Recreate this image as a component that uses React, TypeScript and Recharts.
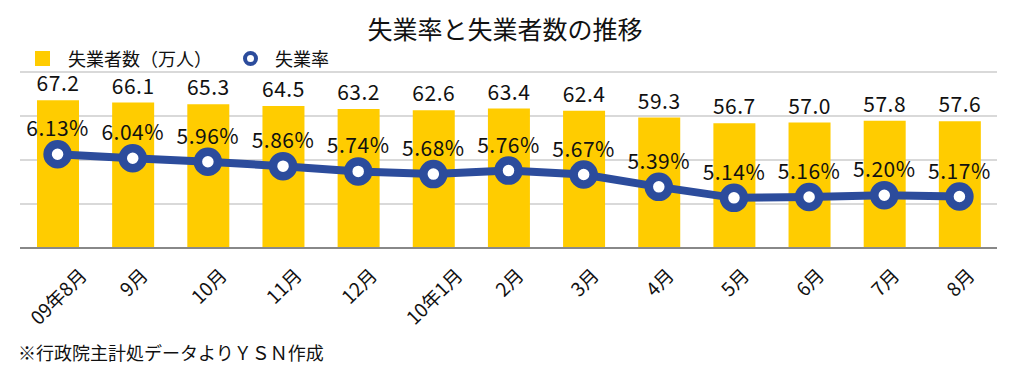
import React from "react";
import {
  ComposedChart, Bar, Line, XAxis, YAxis, CartesianGrid, LabelList,
} from "recharts";

const months = ["09年8月", "9月", "10月", "11月", "12月", "10年1月", "2月", "3月", "4月", "5月", "6月", "7月", "8月"];
const unemployed = [67.2, 66.1, 65.3, 64.5, 63.2, 62.6, 63.4, 62.4, 59.3, 56.7, 57.0, 57.8, 57.6];
const rate = [6.13, 6.04, 5.96, 5.86, 5.74, 5.68, 5.76, 5.67, 5.39, 5.14, 5.16, 5.20, 5.17];

const data = months.map((m, i) => ({ month: m, unemployed: unemployed[i], rate: rate[i] }));

const FONT = '"Noto Sans CJK JP", "Noto Sans", sans-serif';
const YELLOW = "#FFCC00";
const BLUE = "#2C4C9C";
const TICK_SIZE = 19;

// rough label width so the rotated box can be centred under the bar (like Excel does)
function labelWidth(s: string) {
  let w = 0;
  for (const ch of s) w += /[0-9]/.test(ch) ? 0.56 * TICK_SIZE : TICK_SIZE;
  return w;
}

function MonthTick({ x, y, payload }: any) {
  const len = labelWidth(String(payload.value));
  const cy = y + 8 + 0.354 * (len + TICK_SIZE);
  return (
    <text
      x={x}
      y={cy}
      textAnchor="middle"
      dominantBaseline="central"
      fontSize={TICK_SIZE}
      fill="#111"
      fontFamily={FONT}
      transform={`rotate(-45 ${x} ${cy})`}
    >
      {payload.value}
    </text>
  );
}

export default function App() {
  return (
    <div style={{ position: "absolute", left: 0, top: 0, width: 1018, height: 371, background: "#fff", fontFamily: FONT, color: "#111" }}>
      <div style={{ position: "absolute", left: 0, width: 1010, top: 12, textAlign: "center", fontSize: 25, lineHeight: "32px" }}>
        失業率と失業者数の推移
      </div>

      <div style={{ position: "absolute", left: 35, top: 46, display: "flex", alignItems: "center", fontSize: 18, lineHeight: "24px" }}>
        <span style={{ width: 15, height: 15, background: YELLOW, display: "inline-block", marginRight: 18 }} />
        <span>失業者数（万人）</span>
        <span style={{ width: 7, height: 7, border: `4px solid ${BLUE}`, borderRadius: "50%", display: "inline-block", marginLeft: 31, marginRight: 17 }} />
        <span>失業率</span>
      </div>

      <ComposedChart
        width={1018}
        height={371}
        data={data}
        margin={{ top: 72, right: 21, left: 20, bottom: 23 }}
        style={{ fontFamily: FONT }}
      >
        <CartesianGrid yAxisId="left" vertical={false} stroke="#d9d9d9" strokeWidth={2} />
        <XAxis
          dataKey="month"
          interval={0}
          height={100}
          tickLine={false}
          axisLine={{ stroke: "#888", strokeWidth: 2 }}
          tick={<MonthTick />}
        />
        <YAxis yAxisId="left" hide domain={[0, 80]} ticks={[0, 20, 40, 60, 80]} />
        <YAxis yAxisId="right" hide orientation="right" domain={[4, 8]} />
        <Bar yAxisId="left" dataKey="unemployed" fill={YELLOW} barSize={42} isAnimationActive={false}>
          <LabelList
            dataKey="unemployed"
            position="top"
            offset={9}
            fontSize={21}
            letterSpacing={0.5}
            fill="#111"
            formatter={(v: any) => Number(v).toFixed(1)}
          />
        </Bar>
        <Line
          yAxisId="right"
          dataKey="rate"
          stroke={BLUE}
          strokeWidth={8}
          dot={{ r: 10, stroke: BLUE, strokeWidth: 8.5, fill: "#fff" }}
          isAnimationActive={false}
        >
          <LabelList
            dataKey="rate"
            position="top"
            offset={18}
            fontSize={21}
            letterSpacing={0.5}
            fill="#111"
            formatter={(v: any) => Number(v).toFixed(2) + "%"}
          />
        </Line>
      </ComposedChart>

      <div style={{ position: "absolute", left: 18, top: 340, fontSize: 18, lineHeight: "24px" }}>
        ※行政院主計処データよりＹＳＮ作成
      </div>
    </div>
  );
}
